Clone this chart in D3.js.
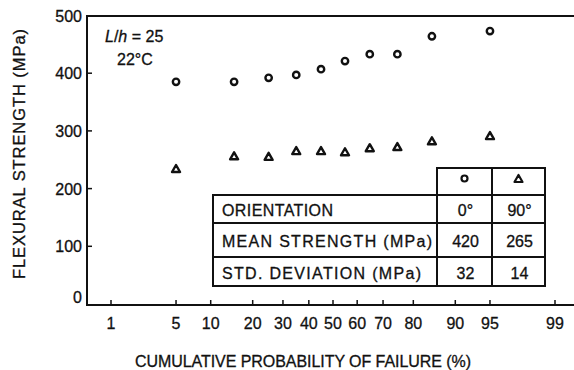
<!DOCTYPE html>
<html>
<head>
<meta charset="utf-8">
<script src="https://cdn.jsdelivr.net/npm/d3@7"></script>
<style>
  body { margin: 0; background: #fff; }
  svg { display: block; font-family: "Liberation Sans", Arial, sans-serif; }
  text { fill: #111; stroke: #111; stroke-width: 0.3px; }
</style>
</head>
<body>
<svg id="chart"></svg>
<script>
// data
const probTicks = [1, 5, 10, 20, 30, 40, 50, 60, 70, 80, 90, 95, 99];
const yTicks = [0, 100, 200, 300, 400, 500];
const probs = [5, 15, 25, 35, 45, 55, 65, 75, 85, 95];          // % failure
const strength0 = [385, 385, 392, 397, 407, 421, 433, 433, 464, 473];  // 0 deg, circles
const strength90 = [234, 256, 255, 265, 265, 263, 270, 272, 282, 291]; // 90 deg, triangles
const rowLabels = ['ORIENTATION', 'MEAN STRENGTH (MPa)', 'STD. DEVIATION (MPa)'];
const col0 = ['0°', '420', '32'];
const col90 = ['90°', '265', '14'];

const width = 574, height = 370;
const svg = d3.select('#chart').attr('width', width).attr('height', height);

// inverse normal cdf (Acklam) for the probability axis
function probit(p) {
  const a = [-39.6968302866538, 220.946098424521, -275.928510446969, 138.357751867269, -30.6647980661472, 2.50662827745924];
  const b = [-54.4760987982241, 161.585836858041, -155.698979859887, 66.8013118877197, -13.2806815528857];
  const c = [-0.00778489400243029, -0.322396458041136, -2.40075827716184, -2.54973253934373, 4.37466414146497, 2.93816398269878];
  const d = [0.00778469570904146, 0.32246712907004, 2.445134137143, 3.75440866190742];
  const pl = 0.02425;
  let q, r;
  if (p < pl) {
    q = Math.sqrt(-2 * Math.log(p));
    return (((((c[0]*q+c[1])*q+c[2])*q+c[3])*q+c[4])*q+c[5]) / ((((d[0]*q+d[1])*q+d[2])*q+d[3])*q+1);
  } else if (p <= 1 - pl) {
    q = p - 0.5; r = q * q;
    return (((((a[0]*r+a[1])*r+a[2])*r+a[3])*r+a[4])*r+a[5])*q / (((((b[0]*r+b[1])*r+b[2])*r+b[3])*r+b[4])*r+1);
  } else {
    q = Math.sqrt(-2 * Math.log(1 - p));
    return -(((((c[0]*q+c[1])*q+c[2])*q+c[3])*q+c[4])*q+c[5]) / ((((d[0]*q+d[1])*q+d[2])*q+d[3])*q+1);
  }
}

const xLin = d3.scaleLinear().domain([probit(0.01), probit(0.99)]).range([111, 555]);
const x = p => xLin(probit(p / 100));
const y = d3.scaleLinear().domain([0, 500]).range([304, 15.5]);

const x0 = 87, yBottom = 305, yTop = 16;

// frame
svg.append('path')
  .attr('d', `M${width + 2},${yTop}H${x0}V${yBottom}H${width + 2}`)
  .attr('fill', 'none').attr('stroke', '#111').attr('stroke-width', 2);

// x ticks (inward) + labels
const gx = svg.append('g');
gx.selectAll('line').data(probTicks).enter().append('line')
  .attr('x1', d => x(d)).attr('x2', d => x(d))
  .attr('y1', yBottom).attr('y2', yBottom - 5)
  .attr('stroke', '#111').attr('stroke-width', 1.5);
gx.selectAll('text').data(probTicks).enter().append('text')
  .attr('x', d => x(d)).attr('y', 329)
  .attr('text-anchor', 'middle').style('font-size', '16px')
  .text(d => d);

// y ticks + labels
const gy = svg.append('g');
gy.selectAll('line').data(yTicks.filter(d => d > 0 && d < 500)).enter().append('line')
  .attr('x1', x0).attr('x2', x0 + 5)
  .attr('y1', d => y(d)).attr('y2', d => y(d))
  .attr('stroke', '#111').attr('stroke-width', 1.5);
gy.selectAll('text').data(yTicks).enter().append('text')
  .attr('x', 82).attr('y', d => d === 0 ? y(d) - 1 : y(d) + 6)
  .attr('text-anchor', 'end').style('font-size', '16px')
  .text(d => d);

// axis titles
svg.append('text')
  .attr('x', 135).attr('y', 367)
  .attr('textLength', 336).attr('lengthAdjust', 'spacing')
  .style('font-size', '16px')
  .text('CUMULATIVE PROBABILITY OF FAILURE (%)');
svg.append('text')
  .attr('transform', 'translate(25,154) rotate(-90)')
  .attr('text-anchor', 'middle')
  .attr('textLength', 250).attr('lengthAdjust', 'spacing')
  .style('font-size', '16.5px')
  .text('FLEXURAL STRENGTH (MPa)');

// annotation
const ann = svg.append('text').attr('x', 105).attr('y', 42).style('font-size', '16px');
ann.append('tspan').style('font-style', 'italic').text('L');
ann.append('tspan').text('/');
ann.append('tspan').style('font-style', 'italic').text('h');
ann.append('tspan').text(' = 25');
svg.append('text').attr('x', 117).attr('y', 65).style('font-size', '16px').text('22°C');

// markers
const triPath = 'M0,-4L4,3L-4,3Z';
svg.append('g').selectAll('circle').data(probs).enter().append('circle')
  .attr('cx', d => x(d)).attr('cy', (d, i) => y(strength0[i]))
  .attr('r', 3.2).attr('fill', '#fff').attr('stroke', '#111').attr('stroke-width', 2.4);
svg.append('g').selectAll('path').data(probs).enter().append('path')
  .attr('transform', (d, i) => `translate(${x(d)},${y(strength90[i])})`)
  .attr('d', triPath).attr('fill', '#fff').attr('stroke', '#111').attr('stroke-width', 2.4)
  .attr('stroke-linejoin', 'round');

// table
const tLeft = 213, cA = 437, cB = 492, cC = 545;
const rowY = [195, 223, 257, 286], headTop = 168;
const tbl = svg.append('g').attr('stroke', '#111').attr('stroke-width', 2).attr('fill', 'none');
tbl.append('rect').attr('x', tLeft).attr('y', rowY[0]).attr('width', cA - tLeft).attr('height', rowY[3] - rowY[0]).attr('fill', '#fff');
tbl.append('rect').attr('x', cA).attr('y', headTop).attr('width', cB - cA).attr('height', rowY[3] - headTop).attr('fill', '#fff');
tbl.append('rect').attr('x', cB).attr('y', headTop).attr('width', cC - cB).attr('height', rowY[3] - headTop).attr('fill', '#fff');
[rowY[0], rowY[1], rowY[2]].forEach(v => {
  tbl.append('line').attr('x1', tLeft).attr('x2', cC).attr('y1', v).attr('y2', v);
});
// header symbols
svg.append('circle').attr('cx', (cA + cB) / 2).attr('cy', 178.5).attr('r', 3)
  .attr('fill', '#fff').attr('stroke', '#111').attr('stroke-width', 2.2);
svg.append('path').attr('transform', `translate(${(cB + cC) / 2},179)`).attr('d', triPath)
  .attr('fill', '#fff').attr('stroke', '#111').attr('stroke-width', 2.2).attr('stroke-linejoin', 'round');

const baseY = [216, 247, 279];
svg.append('g').selectAll('text').data(rowLabels).enter().append('text')
  .attr('x', 222).attr('y', (d, i) => baseY[i]).style('font-size', '16px')
  .attr('textLength', (d, i) => [111, 210, 199][i]).attr('lengthAdjust', 'spacing')
  .text(d => d);
svg.append('g').selectAll('text').data(col0).enter().append('text')
  .attr('x', (cA + cB) / 2 + 1).attr('y', (d, i) => baseY[i]).attr('text-anchor', 'middle')
  .style('font-size', '16px').text(d => d);
svg.append('g').selectAll('text').data(col90).enter().append('text')
  .attr('x', (cB + cC) / 2 + 1).attr('y', (d, i) => baseY[i]).attr('text-anchor', 'middle')
  .style('font-size', '16px').text(d => d);
</script>
</body>
</html>
